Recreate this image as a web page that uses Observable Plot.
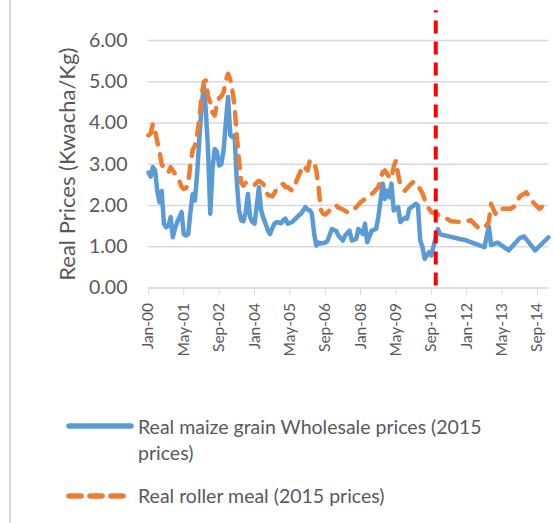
<!DOCTYPE html>
<html><head><meta charset="utf-8">
<script src="https://cdn.jsdelivr.net/npm/d3@7"></script>
<script src="https://cdn.jsdelivr.net/npm/@observablehq/plot@0.6"></script>
<style>
body{margin:0;background:#fff;}
#wrap{position:relative;width:554px;height:523px;overflow:hidden;font-family:Lato, sans-serif;color:#595959;}
#border{position:absolute;left:9px;top:0;width:2px;height:523px;background:#d9d9d9;}
#chart{position:absolute;left:0;top:0;}
.leg{position:absolute;font-size:19.5px;line-height:26px;}
.sym{position:absolute;}
</style></head><body>
<div id="wrap"><div id="border"></div><div id="chart"></div><div id="legend"></div></div>
<script>
// months counted from Jan-2000
const startYear = 2000;
const maizeMonths = [0,1,2,3,4,5,6,7,8,9,10,11,12,13,15,16,17,18,19,20,21,22,23,24,25,26,27,28,29,30,31,32,33,34,35,36,37,38,39,40,41,42,43,44,45,46,47,48,49,50,51,52,53,54,55,56,57,58,60,61,62,63,64,65,66,68,69,71,72,73,74,75,76,77,78,80,81,83,85,86,88,89,91,92,94,95,97,98,99,101,103,104,106,107,108,109,110,111,113,114,116,117,118,121,122,123,124,125,127,128,130,131,132,144,152,154,155,158,163,168,170,175,181];
const maizeValues = [2.8,2.7,2.93,2.85,2.35,2.08,2.35,1.55,1.47,1.5,1.72,1.23,1.45,1.6,1.84,1.3,1.27,1.3,1.85,2.28,2.12,2.77,3.6,4.4,4.9,4.3,3.3,1.8,2.9,3.37,3.3,2.97,3.0,3.35,4.0,4.63,3.7,3.66,3.7,2.6,1.88,1.64,1.62,1.84,2.28,1.72,1.6,1.56,2.0,2.44,1.88,1.7,1.56,1.4,1.31,1.45,1.56,1.6,1.57,1.65,1.68,1.56,1.58,1.6,1.65,1.76,1.8,1.96,1.9,1.88,1.8,1.31,1.03,1.1,1.08,1.1,1.14,1.43,1.38,1.27,1.15,1.27,1.39,1.15,1.19,1.43,1.31,1.56,1.11,1.39,1.43,1.72,2.53,2.16,2.36,2.2,2.53,1.88,1.96,1.6,1.7,1.68,1.92,2.04,2.0,1.15,1.0,0.71,0.87,0.79,1.23,1.43,1.3,1.15,0.99,1.5,1.04,1.1,0.91,1.21,1.25,0.91,1.23];
const mealMonths = [0,1,2,3,4,5,6,7,8,9,10,11,12,13,14,15,16,17,18,19,20,21,22,23,24,25,26,27,28,29,30,31,32,33,34,35,36,37,38,39,40,41,42,43,44,46,47,48,49,50,52,53,54,56,57,58,60,61,62,63,65,66,67,69,70,72,73,75,76,77,78,79,80,82,83,85,86,88,90,92,94,96,99,102,104,106,107,109,110,111,112,113,114,116,118,120,122,124,126,128,130,132,137,141,146,149,152,154,155,157,158,161,164,166,168,171,174,177,181];
const mealValues = [3.7,3.75,3.98,3.8,3.55,3.3,3.0,2.9,2.85,2.8,2.93,2.85,2.77,2.7,2.6,2.45,2.4,2.42,2.52,3.0,3.35,3.45,3.7,4.1,4.65,5.0,5.03,4.65,4.5,4.25,4.18,4.47,4.6,4.65,4.75,5.03,5.19,5.05,4.8,4.4,3.7,3.1,2.56,2.48,2.55,2.52,2.48,2.5,2.56,2.6,2.52,2.35,2.26,2.22,2.3,2.4,2.5,2.52,2.44,2.45,2.36,2.45,2.6,2.85,2.97,2.85,3.09,3.05,2.85,2.44,1.9,1.8,1.78,1.88,1.96,2.0,1.95,1.9,1.84,1.86,1.96,2.08,2.2,2.32,2.45,2.81,2.85,2.68,2.65,2.95,3.08,2.75,2.5,2.36,2.48,2.58,2.48,2.3,2.0,1.84,1.8,1.76,1.62,1.6,1.64,1.47,1.45,1.6,2.04,1.8,1.92,1.92,1.92,2.0,2.22,2.32,2.08,1.92,2.12];
const tickLabels = ["Jan-00","May-01","Sep-02","Jan-04","May-05","Sep-06","Jan-08","May-09","Sep-10","Jan-12","May-13","Sep-14"];
const yTicks = [0,1,2,3,4,5,6];
const endMonth = 181;
const policyMonth = 130;
const seriesNames = ["Real maize grain Wholesale prices (2015 prices)", "Real roller meal (2015 prices)"];
const yTitle = "Real Prices (Kwacha/Kg)";
const colors = ["#5B9BD5", "#ED7D31"];

const start = new Date(Date.UTC(startYear, 0, 1));
const toDate = m => d3.utcMonth.offset(start, m);
const maize = maizeMonths.map((m, i) => ({date: toDate(m), value: maizeValues[i]}));
const meal = mealMonths.map((m, i) => ({date: toDate(m), value: mealValues[i]}));
const parseTick = d3.utcParse("%b-%y");
const tickDates = tickLabels.map(parseTick);

const chart = Plot.plot({
  width: 554, height: 380,
  marginLeft: 148, marginRight: 6, marginTop: 40, marginBottom: 92.5,
  style: {fontFamily: "Lato, sans-serif", color: "#595959", background: "transparent", overflow: "visible"},
  x: {type: "utc", domain: [start, toDate(endMonth)]},
  y: {domain: [0, 6]},
  marks: [
    Plot.gridY(yTicks, {stroke: "#d9d9d9", strokeOpacity: 1, strokeWidth: 1.3}),
    Plot.axisY(yTicks, {tickSize: 0, tickPadding: 21, tickFormat: d => d.toFixed(2), fontSize: 19.5, label: null}),
    Plot.axisX(tickDates, {tickRotate: -90, tickSize: 7, tickPadding: 8, stroke: "#d9d9d9", strokeOpacity: 1,
      tickFormat: (d, i) => tickLabels[i], fontSize: 15.5, label: null}),
    Plot.text([yTitle], {frameAnchor: "left", dx: -81, rotate: -90, textAnchor: "middle", fontSize: 22, fontWeight: "normal", fill: "#595959", text: d => d}),
    Plot.line(maize, {x: "date", y: "value", stroke: colors[0], strokeWidth: 4.5, strokeLinejoin: "round", strokeLinecap: "round"}),
    Plot.line(meal, {x: "date", y: "value", stroke: colors[1], strokeWidth: 4.5, strokeLinejoin: "round", strokeLinecap: "round", strokeDasharray: "12,10"}),
    Plot.ruleX([toDate(policyMonth)], {x: d => d, y1: () => 0.05, y2: () => 6.72, stroke: "#FF0000", strokeWidth: 4, strokeDasharray: "13,8"})
  ]
});
document.getElementById("chart").appendChild(chart);

const legend = document.getElementById("legend");
function addItem(i, symTop, textTop, dashed) {
  const svgNS = "http://www.w3.org/2000/svg";
  const s = document.createElementNS(svgNS, "svg");
  s.setAttribute("width", 70); s.setAttribute("height", 12);
  s.setAttribute("class", "sym");
  s.style.left = "66px"; s.style.top = symTop + "px";
  const l = document.createElementNS(svgNS, "line");
  l.setAttribute("x1", 3); l.setAttribute("x2", 65); l.setAttribute("y1", 6); l.setAttribute("y2", 6);
  l.setAttribute("stroke", colors[i]); l.setAttribute("stroke-width", 5.5); l.setAttribute("stroke-linecap", "round");
  if (dashed) l.setAttribute("stroke-dasharray", "12,9");
  s.appendChild(l);
  legend.appendChild(s);
  const t = document.createElement("div");
  t.className = "leg";
  t.style.left = "138px"; t.style.top = textTop + "px"; t.style.width = "395px";
  t.textContent = seriesNames[i];
  legend.appendChild(t);
}
addItem(0, 420, 414, false);
addItem(1, 490, 483, true);
</script>
</body></html>
